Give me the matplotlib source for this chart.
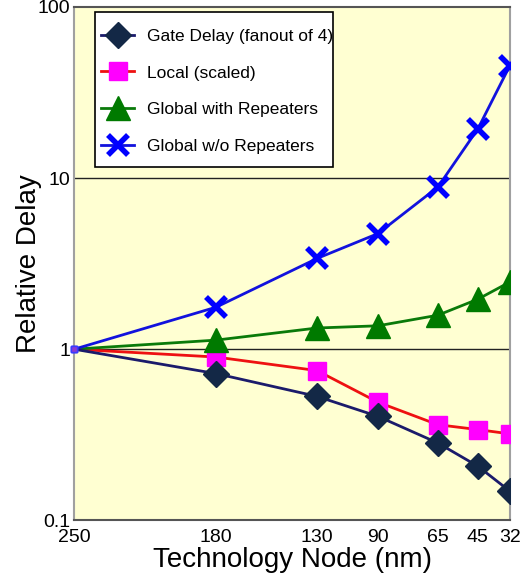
import matplotlib.pyplot as plt
from matplotlib.patches import Rectangle
import numpy as np

plt.rcParams['font.family'] = ['Liberation Sans', 'DejaVu Sans']

# data
nodes = ['250', '180', '130', '90', '65', '45', '32']
gate_delay = [1.0, 0.72, 0.53, 0.405, 0.283, 0.207, 0.148]
local_scaled = [1.0, 0.90, 0.75, 0.49, 0.362, 0.339, 0.32]
global_rep = [1.0, 1.13, 1.33, 1.37, 1.58, 1.96, 2.47]
global_norep = [1.0, 1.76, 3.39, 4.74, 8.87, 19.4, 45.4]

# spacing of the categories along the x axis (uneven in the original)
node_spacing = np.array([0, 142, 243, 304, 364, 404, 436]) / 436.0

fig = plt.figure(figsize=(5.30, 5.82), dpi=100)
ax = fig.add_axes([0.14, 0.106, 0.822, 0.882])
ax.set_facecolor('#FFFFD2')

series = [
    (gate_delay, '#1b1b6b', 'D', 13, '#132846', 'Gate Delay (fanout of 4)', 5),
    (local_scaled, '#ee1111', 's', 13, '#ff00ff', 'Local (scaled)', 4),
    (global_rep, '#0a7a0a', '^', 17, '#007a00', 'Global with Repeaters', 4),
    (global_norep, '#1212dd', 'x', 14, '#0000ff', 'Global w/o Repeaters', 4),
]
for vals, lc, mk, ms, mc, lab, z in series:
    ax.plot(node_spacing, vals, color=lc, lw=2, marker=mk, ms=ms,
            mew=4 if mk == 'x' else 1, mfc=mc, mec=mc,
            markevery=slice(1, None), label=lab, zorder=z)
    # first point is only a tiny marker in the original
    ax.plot(node_spacing[:1], vals[:1], ls='none', marker='s', ms=4,
            mfc='#8a3ad0', mec='#3a3aff', clip_on=False, zorder=6)

ax.set_yscale('log')
ax.set_ylim(0.1, 100)
ax.set_xlim(0, 1)
ax.set_yticks([0.1, 1, 10, 100])
ax.set_yticklabels(['0.1', '1', '10', '100'])
ax.minorticks_off()
ax.set_xticks(node_spacing)
ax.set_xticklabels(nodes)
ax.tick_params(length=0, labelsize=14, pad=6)
ax.tick_params(axis='y', pad=3)

for v in [1, 10]:
    ax.axhline(v, color='#222222', lw=1, zorder=1)

for side in ['top', 'right', 'left', 'bottom']:
    ax.spines[side].set_color('#a0a0a0')
    ax.spines[side].set_linewidth(1.5)
ax.spines['top'].set_color('#555555')
ax.spines['bottom'].set_color('#555555')

ax.set_xlabel('Technology Node (nm)', fontsize=20, labelpad=1)
ax.set_ylabel('Relative Delay', fontsize=20, labelpad=-3)

# legend box drawn by hand so the padding matches the original
ax.add_patch(Rectangle((0.048, 0.688), 0.546, 0.302, transform=ax.transAxes,
                       facecolor='white', edgecolor='black', lw=1.2,
                       zorder=7))
leg = ax.legend(loc='upper left', bbox_to_anchor=(0.062, 0.958),
                fontsize=12.5, frameon=False, handlelength=1.9,
                handletextpad=0.75, labelspacing=1.25, borderpad=0.0,
                borderaxespad=0.0, markerscale=1.05)
leg.set_zorder(8)

fig.savefig('out.png', dpi=100)
